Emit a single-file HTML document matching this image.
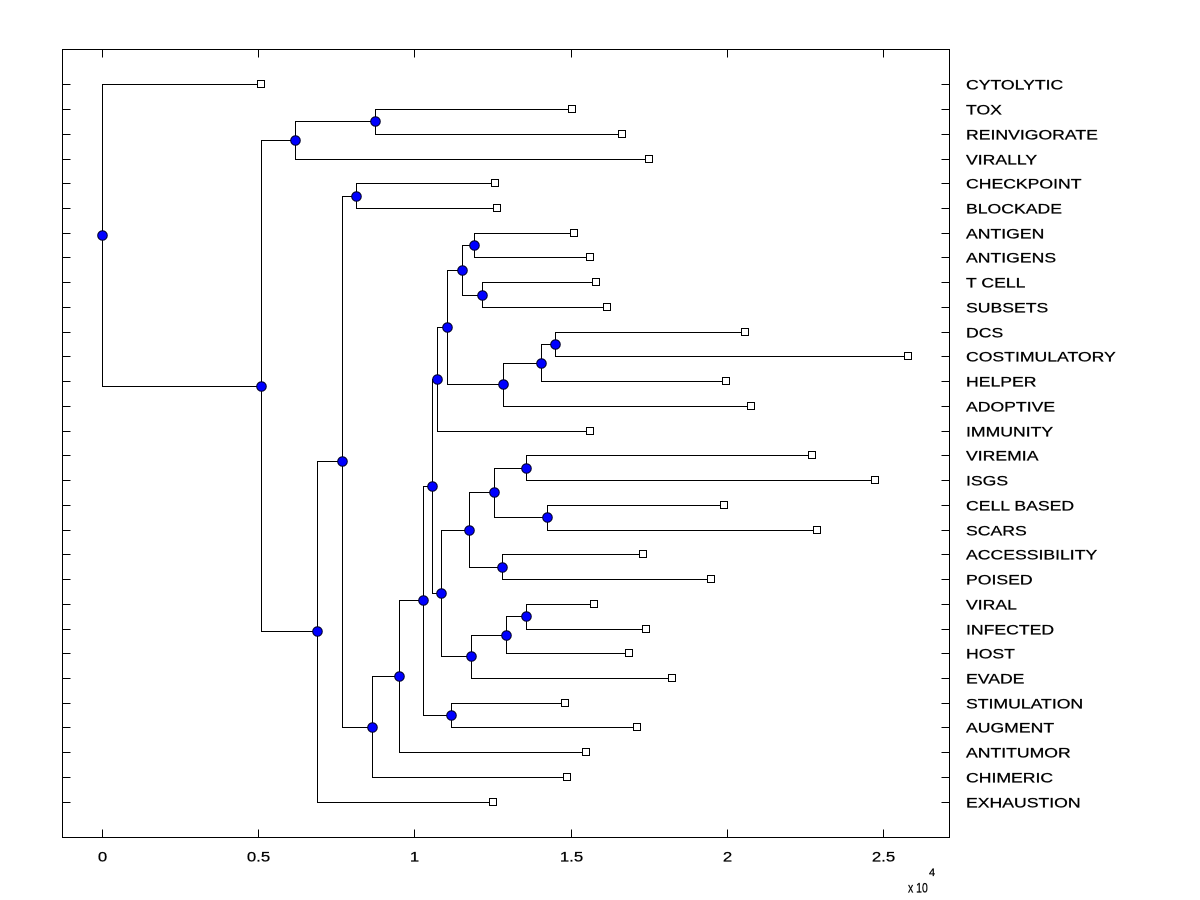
<!DOCTYPE html>
<html>
<head>
<meta charset="utf-8">
<style>
  html, body { margin: 0; padding: 0; background: #ffffff; }
  svg { display: block; }
  text { font-family: "Liberation Sans", Arial, sans-serif; fill: #000; stroke: #000; stroke-width: 0.25px; }
</style>
</head>
<body>
<svg width="1200" height="900" viewBox="0 0 1200 900" xmlns="http://www.w3.org/2000/svg">
  <rect x="0" y="0" width="1200" height="900" fill="#ffffff"/>

  <!-- axes box -->
  <rect x="62.5" y="49.5" width="887" height="788" fill="none" stroke="#000" stroke-width="1" shape-rendering="crispEdges"/>

  <!-- ticks -->
  <g stroke="#000" stroke-width="1" fill="none" shape-rendering="crispEdges">
    <path d="M102.5 837.5V829.5 M258.5 837.5V829.5 M414.5 837.5V829.5 M571.5 837.5V829.5 M727.5 837.5V829.5 M883.5 837.5V829.5"/>
    <path d="M102.5 49.5V57.5 M258.5 49.5V57.5 M414.5 49.5V57.5 M571.5 49.5V57.5 M727.5 49.5V57.5 M883.5 49.5V57.5"/>
    <path d="M62.5 84.5H70.5 M62.5 109.5H70.5 M62.5 134.5H70.5 M62.5 159.5H70.5 M62.5 183.5H70.5 M62.5 208.5H70.5 M62.5 233.5H70.5 M62.5 257.5H70.5 M62.5 282.5H70.5 M62.5 307.5H70.5 M62.5 332.5H70.5 M62.5 356.5H70.5 M62.5 381.5H70.5 M62.5 406.5H70.5 M62.5 431.5H70.5 M62.5 455.5H70.5 M62.5 480.5H70.5 M62.5 505.5H70.5 M62.5 530.5H70.5 M62.5 554.5H70.5 M62.5 579.5H70.5 M62.5 604.5H70.5 M62.5 629.5H70.5 M62.5 653.5H70.5 M62.5 678.5H70.5 M62.5 703.5H70.5 M62.5 727.5H70.5 M62.5 752.5H70.5 M62.5 777.5H70.5 M62.5 802.5H70.5"/>
    <path d="M949.5 84.5H941.5 M949.5 109.5H941.5 M949.5 134.5H941.5 M949.5 159.5H941.5 M949.5 183.5H941.5 M949.5 208.5H941.5 M949.5 233.5H941.5 M949.5 257.5H941.5 M949.5 282.5H941.5 M949.5 307.5H941.5 M949.5 332.5H941.5 M949.5 356.5H941.5 M949.5 381.5H941.5 M949.5 406.5H941.5 M949.5 431.5H941.5 M949.5 455.5H941.5 M949.5 480.5H941.5 M949.5 505.5H941.5 M949.5 530.5H941.5 M949.5 554.5H941.5 M949.5 579.5H941.5 M949.5 604.5H941.5 M949.5 629.5H941.5 M949.5 653.5H941.5 M949.5 678.5H941.5 M949.5 703.5H941.5 M949.5 727.5H941.5 M949.5 752.5H941.5 M949.5 777.5H941.5 M949.5 802.5H941.5"/>
  </g>

  <!-- tree branches -->
  <g stroke="#000" stroke-width="1" fill="none" shape-rendering="crispEdges">
    <path d="M572.5 109.5H375.5V134.5H622.5"/>
    <path d="M375.5 121.5H295.5V159.5H649.5"/>
    <path d="M495.5 183.5H356.5V208.5H497.5"/>
    <path d="M574.5 233.5H474.5V257.5H590.5"/>
    <path d="M596.5 282.5H482.5V307.5H607.5"/>
    <path d="M474.5 245.5H462.5V295.5H482.5"/>
    <path d="M745.5 332.5H555.5V356.5H908.5"/>
    <path d="M555.5 344.5H541.5V381.5H726.5"/>
    <path d="M541.5 363.5H503.5V406.5H751.5"/>
    <path d="M462.5 270.5H447.5V384.5H503.5"/>
    <path d="M447.5 327.5H437.5V431.5H590.5"/>
    <path d="M812.5 455.5H526.5V480.5H875.5"/>
    <path d="M724.5 505.5H547.5V530.5H817.5"/>
    <path d="M526.5 468.5H494.5V517.5H547.5"/>
    <path d="M643.5 554.5H502.5V579.5H711.5"/>
    <path d="M494.5 492.5H469.5V567.5H502.5"/>
    <path d="M594.5 604.5H526.5V629.5H646.5"/>
    <path d="M526.5 616.5H506.5V653.5H629.5"/>
    <path d="M506.5 635.5H471.5V678.5H672.5"/>
    <path d="M469.5 530.5H441.5V656.5H471.5"/>
    <path d="M437.5 379.5H432.5V593.5H441.5"/>
    <path d="M565.5 703.5H451.5V727.5H637.5"/>
    <path d="M432.5 486.5H423.5V715.5H451.5"/>
    <path d="M423.5 600.5H399.5V752.5H586.5"/>
    <path d="M399.5 676.5H372.5V777.5H567.5"/>
    <path d="M356.5 196.5H342.5V727.5H372.5"/>
    <path d="M342.5 461.5H317.5V802.5H493.5"/>
    <path d="M295.5 140.5H261.5V631.5H317.5"/>
    <path d="M261.5 84.5H102.5V386.5H261.5"/>
  </g>

  <!-- leaf squares -->
  <g fill="#ffffff" stroke="#000" stroke-width="1" shape-rendering="crispEdges">
    <rect x="257.5" y="80.5" width="7" height="7"/>
    <rect x="568.5" y="105.5" width="7" height="7"/>
    <rect x="618.5" y="130.5" width="7" height="7"/>
    <rect x="645.5" y="155.5" width="7" height="7"/>
    <rect x="491.5" y="179.5" width="7" height="7"/>
    <rect x="493.5" y="204.5" width="7" height="7"/>
    <rect x="570.5" y="229.5" width="7" height="7"/>
    <rect x="586.5" y="253.5" width="7" height="7"/>
    <rect x="592.5" y="278.5" width="7" height="7"/>
    <rect x="603.5" y="303.5" width="7" height="7"/>
    <rect x="741.5" y="328.5" width="7" height="7"/>
    <rect x="904.5" y="352.5" width="7" height="7"/>
    <rect x="722.5" y="377.5" width="7" height="7"/>
    <rect x="747.5" y="402.5" width="7" height="7"/>
    <rect x="586.5" y="427.5" width="7" height="7"/>
    <rect x="808.5" y="451.5" width="7" height="7"/>
    <rect x="871.5" y="476.5" width="7" height="7"/>
    <rect x="720.5" y="501.5" width="7" height="7"/>
    <rect x="813.5" y="526.5" width="7" height="7"/>
    <rect x="639.5" y="550.5" width="7" height="7"/>
    <rect x="707.5" y="575.5" width="7" height="7"/>
    <rect x="590.5" y="600.5" width="7" height="7"/>
    <rect x="642.5" y="625.5" width="7" height="7"/>
    <rect x="625.5" y="649.5" width="7" height="7"/>
    <rect x="668.5" y="674.5" width="7" height="7"/>
    <rect x="561.5" y="699.5" width="7" height="7"/>
    <rect x="633.5" y="723.5" width="7" height="7"/>
    <rect x="582.5" y="748.5" width="7" height="7"/>
    <rect x="563.5" y="773.5" width="7" height="7"/>
    <rect x="489.5" y="798.5" width="7" height="7"/>
  </g>

  <!-- internal node dots -->
  <g fill="#0000ff" stroke="#00002a" stroke-width="1">
    <circle cx="375.5" cy="121.5" r="4.8"/>
    <circle cx="295.5" cy="140.5" r="4.8"/>
    <circle cx="356.5" cy="196.5" r="4.8"/>
    <circle cx="474.5" cy="245.5" r="4.8"/>
    <circle cx="482.5" cy="295.5" r="4.8"/>
    <circle cx="462.5" cy="270.5" r="4.8"/>
    <circle cx="555.5" cy="344.5" r="4.8"/>
    <circle cx="541.5" cy="363.5" r="4.8"/>
    <circle cx="503.5" cy="384.5" r="4.8"/>
    <circle cx="447.5" cy="327.5" r="4.8"/>
    <circle cx="437.5" cy="379.5" r="4.8"/>
    <circle cx="526.5" cy="468.5" r="4.8"/>
    <circle cx="547.5" cy="517.5" r="4.8"/>
    <circle cx="494.5" cy="492.5" r="4.8"/>
    <circle cx="502.5" cy="567.5" r="4.8"/>
    <circle cx="469.5" cy="530.5" r="4.8"/>
    <circle cx="526.5" cy="616.5" r="4.8"/>
    <circle cx="506.5" cy="635.5" r="4.8"/>
    <circle cx="471.5" cy="656.5" r="4.8"/>
    <circle cx="441.5" cy="593.5" r="4.8"/>
    <circle cx="432.5" cy="486.5" r="4.8"/>
    <circle cx="451.5" cy="715.5" r="4.8"/>
    <circle cx="423.5" cy="600.5" r="4.8"/>
    <circle cx="399.5" cy="676.5" r="4.8"/>
    <circle cx="372.5" cy="727.5" r="4.8"/>
    <circle cx="342.5" cy="461.5" r="4.8"/>
    <circle cx="317.5" cy="631.5" r="4.8"/>
    <circle cx="261.5" cy="386.5" r="4.8"/>
    <circle cx="102.5" cy="235.5" r="4.8"/>
  </g>

  <!-- leaf labels -->
  <g font-size="14">
    <text transform="translate(966 89.5) scale(1.26 1)">CYTOLYTIC</text>
    <text transform="translate(966 114.5) scale(1.26 1)">TOX</text>
    <text transform="translate(966 139.5) scale(1.26 1)">REINVIGORATE</text>
    <text transform="translate(966 164.5) scale(1.26 1)">VIRALLY</text>
    <text transform="translate(966 188.5) scale(1.26 1)">CHECKPOINT</text>
    <text transform="translate(966 213.5) scale(1.26 1)">BLOCKADE</text>
    <text transform="translate(966 238.5) scale(1.26 1)">ANTIGEN</text>
    <text transform="translate(966 262.5) scale(1.26 1)">ANTIGENS</text>
    <text transform="translate(966 287.5) scale(1.26 1)">T CELL</text>
    <text transform="translate(966 312.5) scale(1.26 1)">SUBSETS</text>
    <text transform="translate(966 337.5) scale(1.26 1)">DCS</text>
    <text transform="translate(966 361.5) scale(1.26 1)">COSTIMULATORY</text>
    <text transform="translate(966 386.5) scale(1.26 1)">HELPER</text>
    <text transform="translate(966 411.5) scale(1.26 1)">ADOPTIVE</text>
    <text transform="translate(966 436.5) scale(1.26 1)">IMMUNITY</text>
    <text transform="translate(966 460.5) scale(1.26 1)">VIREMIA</text>
    <text transform="translate(966 485.5) scale(1.26 1)">ISGS</text>
    <text transform="translate(966 510.5) scale(1.26 1)">CELL BASED</text>
    <text transform="translate(966 535.5) scale(1.26 1)">SCARS</text>
    <text transform="translate(966 559.5) scale(1.26 1)">ACCESSIBILITY</text>
    <text transform="translate(966 584.5) scale(1.26 1)">POISED</text>
    <text transform="translate(966 609.5) scale(1.26 1)">VIRAL</text>
    <text transform="translate(966 634.5) scale(1.26 1)">INFECTED</text>
    <text transform="translate(966 658.5) scale(1.26 1)">HOST</text>
    <text transform="translate(966 683.5) scale(1.26 1)">EVADE</text>
    <text transform="translate(966 708.5) scale(1.26 1)">STIMULATION</text>
    <text transform="translate(966 732.5) scale(1.26 1)">AUGMENT</text>
    <text transform="translate(966 757.5) scale(1.26 1)">ANTITUMOR</text>
    <text transform="translate(966 782.5) scale(1.26 1)">CHIMERIC</text>
    <text transform="translate(966 807.5) scale(1.26 1)">EXHAUSTION</text>
  </g>

  <!-- x tick labels -->
  <g font-size="14" text-anchor="middle">
    <text transform="translate(102.5 861.5) scale(1.2 1)">0</text>
    <text transform="translate(258.5 861.5) scale(1.2 1)">0.5</text>
    <text transform="translate(414.5 861.5) scale(1.2 1)">1</text>
    <text transform="translate(571.5 861.5) scale(1.2 1)">1.5</text>
    <text transform="translate(727.5 861.5) scale(1.2 1)">2</text>
    <text transform="translate(883.5 861.5) scale(1.2 1)">2.5</text>
  </g>

  <!-- exponent -->
  <text font-size="14" transform="translate(908 892.5) scale(0.75 1)">x 10</text>
  <text x="929" y="876" font-size="11">4</text>
</svg>
</body>
</html>
